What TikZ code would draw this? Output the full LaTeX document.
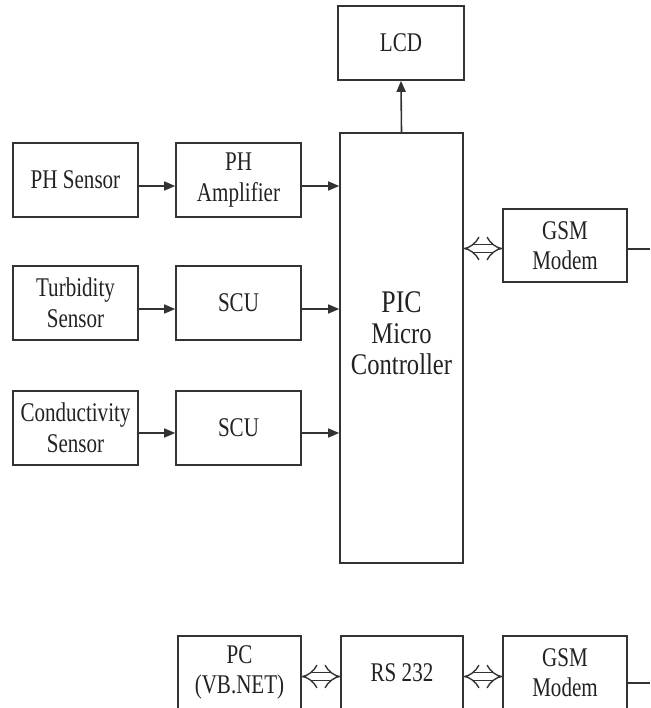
\documentclass[tikz,border=0pt]{standalone}
\usepackage{fontspec}
\setmainfont[FakeStretch=0.78]{Liberation Serif}
\newfontfamily\picfont[FakeStretch=0.82]{Liberation Serif}
\usetikzlibrary{arrows.meta}
\definecolor{ln}{HTML}{333333}
\definecolor{tx}{HTML}{222222}
\tikzset{
  blk/.style={draw=ln, line width=1.6pt, minimum width=125pt, minimum height=74pt, inner sep=0pt, align=center, text=tx, font=\fontsize{27}{30.5}\selectfont},
  arr/.style={draw=ln, line width=1.6pt, -{Triangle[length=11pt,width=9pt]}},
  dbl/.style={draw=ln, line width=1.4pt, double=white, double distance=7pt, {Implies[length=8.5pt]}-{Implies[length=8.5pt]}},
  wire/.style={draw=ln, line width=1.6pt}
}
\begin{document}
\begin{tikzpicture}[x=1pt,y=-1pt]
\useasboundingbox (0,0) rectangle (650,708);
\node[blk, minimum width=126pt] (lcd) at (401,43) {LCD};
\node[blk] (phs) at (75.5,180) {PH Sensor};
\node[blk] (pha) at (238.5,180) {PH\\Amplifier};
\node[blk, minimum width=123pt, minimum height=430pt] (pic) at (401.5,348) {};
\node[align=center, text=tx, inner sep=0pt, font=\picfont\fontsize{30}{31}\selectfont] (pictext) at (401.5,333) {{\fontsize{31.5}{31}\selectfont PIC}\\Micro\\Controller};
\node[blk, minimum width=124pt, minimum height=73pt] (gsm1) at (565,245.5) {GSM\\Modem};
\node[blk] (tur) at (75.5,303) {Turbidity\\Sensor};
\node[blk] (scu1) at (238.5,303) {SCU};
\node[blk] (con) at (75.5,428) {Conductivity\\Sensor};
\node[blk] (scu2) at (238.5,428) {SCU};
\node[blk, minimum width=123pt, minimum height=73pt] (pc) at (239.5,672.5) {PC\\(VB.NET)};
\node[blk, minimum width=122pt, minimum height=73pt] (rs) at (402,672.5) {RS 232};
\node[blk, minimum width=124pt, minimum height=73pt] (gsm2) at (565,672.5) {GSM\\Modem};
\coordinate (e1) at (650,249);
\coordinate (e2) at (650,683);
\draw[arr] (pic.north) -- (lcd.south);
\draw[arr] ([yshift=-6pt]phs.east) -- ([yshift=-6pt]pha.west);
\draw[arr] ([yshift=-6pt]pha.east) -- ([yshift=-6pt]pha.east -| pic.west);
\draw[arr] ([yshift=-6pt]tur.east) -- ([yshift=-6pt]scu1.west);
\draw[arr] ([yshift=-6pt]scu1.east) -- ([yshift=-6pt]scu1.east -| pic.west);
\draw[arr] ([yshift=-5pt]con.east) -- ([yshift=-5pt]scu2.west);
\draw[arr] ([yshift=-5pt]scu2.east) -- ([yshift=-5pt]scu2.east -| pic.west);
\draw[dbl] ([yshift=-3pt]gsm1.west -| pic.east) -- ([yshift=-3pt]gsm1.west);
\draw[wire] ([yshift=-3.5pt]gsm1.east) -- (e1);
\draw[dbl] ([yshift=-4pt]pc.east) -- ([yshift=-4pt]rs.west);
\draw[dbl] ([yshift=-4pt]rs.east) -- ([yshift=-4pt]gsm2.west);
\draw[wire] ([yshift=-10.5pt]gsm2.east) -- (e2);
\end{tikzpicture}
\end{document}
